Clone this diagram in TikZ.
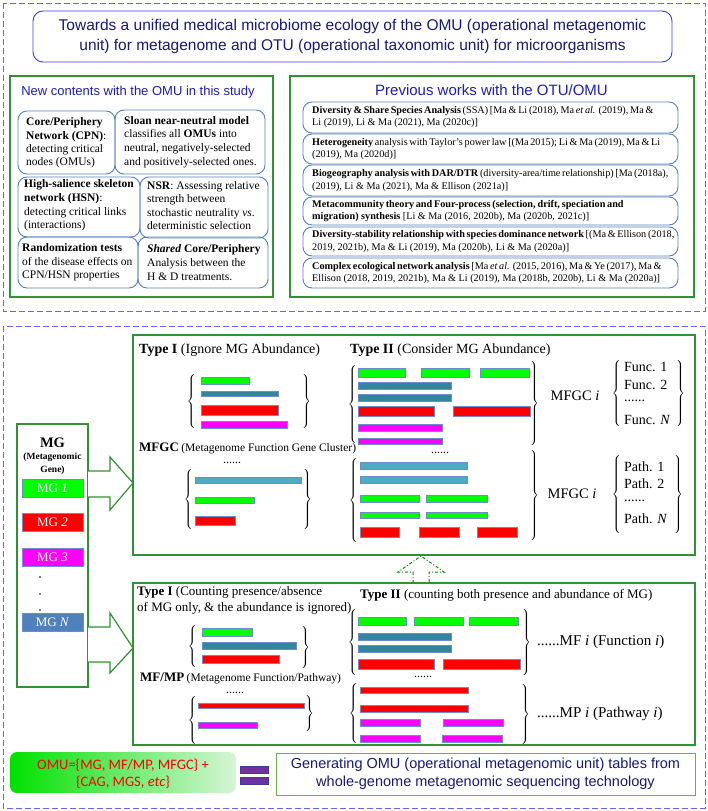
\documentclass[tikz,border=0pt]{standalone}
\usepackage{fontspec}
\setmainfont{Liberation Serif}
\newfontfamily\arialf{Liberation Sans}
\newfontfamily\calibf{Carlito}
\definecolor{boxgreen}{RGB}{50,145,50}
\definecolor{boxblue}{RGB}{85,130,195}
\definecolor{titleblue}{RGB}{60,60,235}
\definecolor{navy}{RGB}{25,25,120}
\definecolor{headblue}{RGB}{30,30,180}
\definecolor{dashblue}{RGB}{100,100,250}
\definecolor{barline}{RGB}{110,140,205}
\definecolor{gbar}{RGB}{0,255,0}
\definecolor{tbar}{RGB}{49,133,156}
\definecolor{rbar}{RGB}{255,0,0}
\definecolor{mbar}{RGB}{255,0,255}
\definecolor{lbar}{RGB}{75,172,198}
\definecolor{mgn}{RGB}{79,129,189}
\definecolor{eqpurple}{RGB}{112,48,160}
\definecolor{eqline}{RGB}{60,60,150}
\definecolor{lgline}{RGB}{112,173,71}
\definecolor{arrowgreen}{RGB}{0,140,0}
\newcommand{\fsz}[2]{\fontsize{#1}{#2}\selectfont}
\newcommand{\LBr}[3]{\node[inner sep=0pt,anchor=east] (#1) at (#2) {$\left\{\vcenter{\hbox{\rule{0pt}{#3pt}}}\right.$};}
\newcommand{\RBr}[3]{\node[inner sep=0pt,anchor=west] (#1) at (#2) {$\left.\vcenter{\hbox{\rule{0pt}{#3pt}}}\right\}$};}
\newcommand{\barr}[5]{\draw[bar,fill=#1] (#2,#3) rectangle (#4,#5);}
\delimiterfactor=1000
\delimitershortfall=0pt
\nulldelimiterspace=0pt
\begin{document}
\begin{tikzpicture}[x=1pt,y=-1pt,
  outerdash/.style={draw=dashblue,line width=1pt,dash pattern=on 6pt off 3pt},
  gbox/.style={draw=boxgreen,line width=1.2pt},
  rbox/.style={draw=boxblue,line width=0.9pt,rounded corners=9pt},
  bar/.style={draw=barline,line width=0.4pt},
  tx/.style={inner sep=0pt,align=left},
  lst/.style={inner sep=0pt,anchor=west,font=\fsz{14}{15}},
  blockarrow/.style={draw=boxgreen,line width=1.2pt,fill=white,line join=miter},
]
\useasboundingbox (0,0) rectangle (708,811);
\fill[white] (0,0) rectangle (708,811);

% ===== top section =====
\draw[outerdash] (3,3) rectangle (705,311);
\draw[draw=titleblue,line width=0.9pt,rounded corners=10pt] (33,11) rectangle (672,62);
\node[inner sep=0pt,align=center,text=navy,font=\arialf\fsz{15.5}{20}] (title) at (352.5,36) {Towards a unified medical microbiome ecology of the OMU (operational metagenomic\\unit) for metagenome and OTU (operational taxonomic unit) for microorganisms};

% left box
\draw[gbox] (10,76) rectangle (273,297);
\node[inner sep=0pt,text=headblue,font=\arialf\fsz{13}{15}] (newc) at (138,92) {New contents with the OMU in this study};
\draw[rbox] (18,111) rectangle (115,174);
\draw[rbox] (115,110) rectangle (265,174);
\draw[rbox] (18,177) rectangle (140,237);
\draw[rbox] (140,177) rectangle (268,238);
\draw[rbox] (18,237) rectangle (138,288);
\draw[rbox] (138,237) rectangle (268,288);
\node[tx,anchor=west,font=\fsz{11.5}{13.4}] (cpn) at (26,143) {\textbf{Core/Periphery}\\\textbf{Network (CPN)}:\\detecting critical\\nodes (OMUs)};
\node[tx,anchor=west,font=\fsz{11.5}{13.6}] (sloan) at (124,142) {\textbf{Sloan near-neutral model}\\classifies all \textbf{OMUs} into\\neutral, negatively-selected\\and positively-selected ones.};
\node[tx,anchor=west,font=\fsz{11.5}{13.6}] (hsn) at (24,205.5) {\textbf{High-salience skeleton}\\\textbf{network (HSN)}:\\detecting critical links\\(interactions)};
\node[tx,anchor=west,font=\fsz{11.5}{13.6}] (nsr) at (147,205.5) {\textbf{NSR}: Assessing relative\\strength between\\stochastic neutrality \textit{vs}.\\deterministic selection};
\node[tx,anchor=west,font=\fsz{11.5}{13.6}] (rand) at (22,262.5) {\textbf{Randomization tests}\\of the disease effects on\\CPN/HSN properties};
\node[tx,anchor=west,font=\fsz{11.5}{13.6}] (shared) at (147,262.5) {\textbf{\textit{Shared} Core/Periphery}\\Analysis between the\\H \& D treatments.};

% right box
\draw[gbox] (290,76) rectangle (694,297);
\node[inner sep=0pt,text=headblue,font=\arialf\fsz{15}{17}] (prev) at (491.5,90) {Previous works with the OTU/OMU};
\draw[rbox] (303,102) rectangle (678,133);
\draw[rbox] (303,134) rectangle (678,164);
\draw[rbox] (303,165) rectangle (678,196);
\draw[rbox] (303,197) rectangle (678,225);
\draw[rbox] (303,227) rectangle (678,256);
\draw[rbox] (303,258) rectangle (678,288);
\node[tx,anchor=west,font=\fsz{10.2}{12.6}] (pw1) at (312,117) {\hbox to 340pt{\textbf{Diversity \& Share Species Analysis} (SSA) [Ma \& Li (2018), Ma \textit{et al.} (2019), Ma \&}\\Li (2019), Li \& Ma (2021), Ma (2020c)]};
\node[tx,anchor=west,font=\fsz{10.2}{12.6}] (pw2) at (312,149) {\hbox to 347pt{\textbf{Heterogeneity} analysis with Taylor's power law [(Ma 2015); Li \& Ma (2019), Ma \& Li}\\(2019), Ma (2020d)]};
\node[tx,anchor=west,font=\fsz{10.2}{12.6}] (pw3) at (312,180.5) {\hbox to 347pt{\textbf{Biogeography analysis with DAR/DTR} (diversity-area/time relationship) [Ma (2018a),}\\(2019), Li \& Ma (2021), Ma \& Ellison (2021a)]};
\node[tx,anchor=west,font=\fsz{10.2}{12.6}] (pw4) at (312,211) {\hbox to 306pt{\textbf{Metacommunity theory and Four-process (selection, drift, speciation and}}\\\textbf{migration) synthesis} [Li \& Ma (2016, 2020b), Ma (2020b, 2021c)]};
\node[tx,anchor=west,font=\fsz{10.2}{12.6}] (pw5) at (312,241.5) {\hbox to 357pt{\textbf{Diversity-stability relationship with species dominance network} [(Ma \& Ellison (2018,}\\2019, 2021b), Ma \& Li (2019), Ma (2020b), Li \& Ma (2020a)]};
\node[tx,anchor=west,font=\fsz{10.2}{12.6}] (pw6) at (312,273) {\hbox to 348pt{\textbf{Complex ecological network analysis} [Ma \textit{et al.} (2015, 2016), Ma \& Ye (2017), Ma \&}\\Ellison (2018, 2019, 2021b), Ma \& Li (2019), Ma (2018b, 2020b), Li \& Ma (2020a)]};

% ===== lower section =====
\draw[outerdash] (3,326) rectangle (705,808);
\draw[gbox] (133,335) rectangle (695,555);
\draw[gbox] (133,583) rectangle (695,745);

% MG column
\draw[gbox] (17,424) rectangle (88,687);
\node[inner sep=0pt,font=\bfseries\fsz{14.5}{16}] (mgt) at (52.5,443) {MG};
\node[inner sep=0pt,align=center,font=\bfseries\fsz{9.5}{13}] (mgsub) at (52.5,463.5) {(Metagenomic\\Gene)};
\node[draw=barline,fill=gbar,text=white,minimum width=61pt,minimum height=18pt,inner sep=0pt,font=\fsz{13}{14}] (mg1) at (52.5,488) {MG \textit{1}};
\node[draw=barline,fill=rbar,text=white,minimum width=61pt,minimum height=18pt,inner sep=0pt,font=\fsz{13}{14}] (mg2) at (52.5,522) {MG \textit{2}};
\node[draw=barline,fill=mbar,text=white,minimum width=61pt,minimum height=18pt,inner sep=0pt,font=\fsz{13}{14}] (mg3) at (52.5,557) {MG \textit{3}};
\node[draw=barline,fill=mgn,text=white,minimum width=61pt,minimum height=18pt,inner sep=0pt,font=\fsz{13}{14}] (mgN) at (52.5,622) {MG \textit{N}};
\fill (40,577) circle (0.9);
\fill (40,594) circle (0.9);
\fill (40,610) circle (0.9);

% block arrows
\draw[blockarrow] (88,471) -- (110,471) -- (110,457) -- (133,483) -- (110,510) -- (110,497) -- (88,497);
\draw[blockarrow] (88,627) -- (110,627) -- (110,613) -- (133,648) -- (110,673) -- (110,662) -- (88,662);

% dashed up arrow
\draw[draw=arrowgreen,line width=1pt,dash dot] (413,583) -- (413,572) -- (398,572) -- (421,556) -- (444,572) -- (429,572) -- (429,583);

% ---- upper green box content ----
\node[tx,anchor=west,font=\fsz{14}{16}] (t1a) at (139,350) {\textbf{Type I} (Ignore MG Abundance)};
\node[tx,anchor=west,font=\fsz{14}{16}] (t2a) at (350,350) {\textbf{Type II} (Consider MG Abundance)};
\node[tx,anchor=west] (mfgc) at (139,448) {{\bfseries\fsz{13}{15}MFGC} {\fsz{11.5}{13}(Metagenome Function Gene Cluster)}};
\node[inner sep=0pt,font=\fsz{12}{12}] (d1) at (232,463) {......};
\node[inner sep=0pt,font=\fsz{12}{12}] (d2) at (440,453) {......};

\LBr{ua1}{196,401.5}{53}
\RBr{ua2}{302,401.5}{53}
\barr{gbar}{201}{377}{249}{384}
\barr{tbar}{201}{391}{278}{396}
\barr{rbar}{201}{405}{278}{415}
\barr{mbar}{201}{421}{287}{428}

\LBr{ub1}{193,499.5}{55}
\RBr{ub2}{303,499.5}{55}
\barr{lbar}{195}{477}{301}{483}
\barr{gbar}{195}{497}{254}{503}
\barr{rbar}{195}{516}{235}{525}

\LBr{uc1}{357,404.5}{77}
\RBr{uc2}{530,403.5}{83}
\barr{gbar}{358}{368}{405}{377}
\barr{gbar}{421}{368}{469}{377}
\barr{gbar}{480}{368}{529}{377}
\barr{tbar}{358}{382}{451}{389}
\barr{tbar}{358}{394}{451}{401}
\barr{rbar}{358}{406}{434}{416}
\barr{rbar}{453}{406}{530}{416}
\barr{mbar}{358}{424}{442}{431}
\barr{mbar}{358}{438}{442}{444}

\LBr{ud1}{358,500}{84}
\RBr{ud2}{530,495.5}{85}
\barr{lbar}{360}{462}{467}{469}
\barr{lbar}{360}{476}{467}{483}
\barr{gbar}{360}{495}{419}{502}
\barr{gbar}{426}{495}{487}{502}
\barr{gbar}{360}{512}{419}{518}
\barr{gbar}{426}{512}{487}{518}
\barr{rbar}{360}{527}{399}{537}
\barr{rbar}{419}{527}{459}{537}
\barr{rbar}{477}{527}{517}{537}

\node[inner sep=0pt,font=\fsz{14.5}{16}] (mfgci1) at (575,396) {MFGC \textit{i}};
\node[inner sep=0pt,font=\fsz{14.5}{16}] (mfgci2) at (572,494) {MFGC \textit{i}};
\LBr{fb1}{621,393.5}{63}
\RBr{fb2}{676,393.5}{63}
\node[lst] (f1) at (624,367) {Func. 1};
\node[lst] (f2) at (624,385) {Func. 2};
\node[lst] (f3) at (624,401) {......};
\node[lst] (fN) at (624,420) {Func. \textit{N}};
\LBr{pb1}{621,494}{74}
\RBr{pb2}{674,494}{74}
\node[lst] (p1) at (624,467) {Path. 1};
\node[lst] (p2) at (624,484) {Path. 2};
\node[lst] (p3) at (624,501) {......};
\node[lst] (pN) at (624,519) {Path. \textit{N}};

% ---- lower green box content ----
\node[tx,anchor=west,font=\fsz{13}{16}] (t1b) at (137,600) {\textbf{Type I} (Counting presence/absence\\of MG only, \& the abundance is ignored)};
\node[tx,anchor=west,font=\fsz{13}{15}] (t2b) at (360,595) {\textbf{Type II} (counting both presence and abundance of MG)};
\node[tx,anchor=west] (mfmp) at (140,678) {{\bfseries\fsz{13}{15}MF/MP} {\fsz{11.5}{13}(Metagenome Function/Pathway)}};
\node[inner sep=0pt,font=\fsz{12}{12}] (d3) at (235,693) {......};
\node[inner sep=0pt,font=\fsz{12}{12}] (d4) at (423,677) {......};

\LBr{la1}{197,646}{38}
\RBr{la2}{301,647}{40}
\barr{gbar}{202}{628}{252}{636}
\barr{tbar}{202}{642}{296}{649}
\barr{rbar}{202}{655}{279}{663}

\LBr{lb1}{197,720}{46}
\RBr{lb2}{305,713.5}{33}
\barr{rbar}{198}{703}{304}{708}
\barr{mbar}{198}{722}{257}{728}

\LBr{lc1}{357,642.5}{61}
\RBr{lc2}{522,642.5}{61}
\barr{gbar}{358}{617}{406}{625}
\barr{gbar}{414}{617}{463}{625}
\barr{gbar}{469}{617}{518}{625}
\barr{tbar}{358}{633}{451}{640}
\barr{tbar}{358}{645}{451}{652}
\barr{rbar}{358}{659}{434}{669}
\barr{rbar}{443}{659}{520}{669}

\LBr{ld1}{358,713.5}{57}
\RBr{ld2}{521,714}{56}
\barr{rbar}{360}{687}{468}{693}
\barr{rbar}{360}{705}{468}{712}
\barr{mbar}{360}{719}{420}{726}
\barr{mbar}{443}{719}{503}{726}
\barr{mbar}{360}{735}{420}{742}
\barr{mbar}{442}{735}{502}{742}

\node[tx,anchor=west,font=\fsz{15}{17}] (mfi) at (537,642) {......MF \textit{i} (Function \textit{i})};
\node[tx,anchor=west,font=\fsz{15}{17}] (mpi) at (537,714) {......MP \textit{i} (Pathway \textit{i})};

% ---- bottom ----
\shade[left color={rgb,255:red,0;green,225;blue,0},middle color={rgb,255:red,25;green,228;blue,25},right color={rgb,255:red,215;green,245;blue,215},rounded corners=7pt] (10,752) rectangle (236,793);
\node[inner sep=0pt,align=center,text=rbar,font=\calibf\fsz{14.5}{17}] (omu) at (123,773.5) {OMU=\{MG, MF/MP, MFGC\} +\\\{CAG, MGS, \textit{etc}\}};
\draw[draw=eqline,fill=eqpurple,line width=0.6pt] (240,766) rectangle (268,773);
\draw[draw=eqline,fill=eqpurple,line width=0.6pt] (240,777) rectangle (268,784);
\draw[draw=lgline,line width=0.9pt] (276,753) rectangle (695,795);
\node[inner sep=0pt,align=center,text=navy,font=\arialf\fsz{14.5}{18}] (gen) at (485.5,774) {Generating OMU (operational metagenomic unit) tables from\\whole-genome metagenomic sequencing technology};
\end{tikzpicture}
\end{document}
